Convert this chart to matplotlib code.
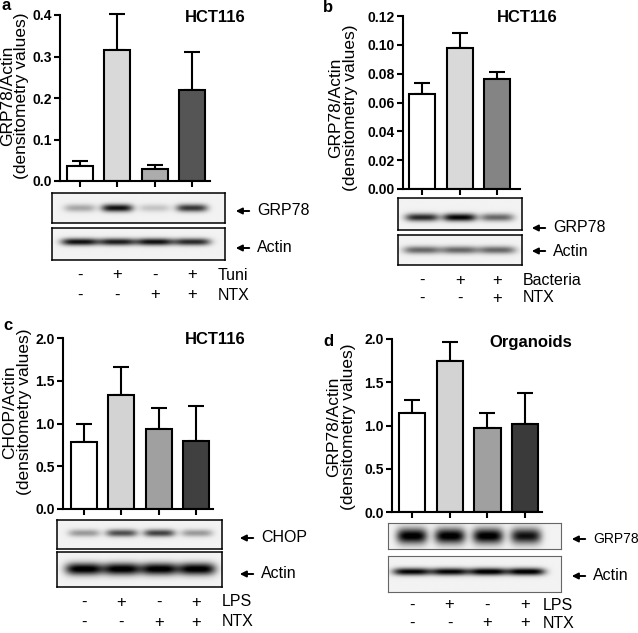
import numpy as np
import matplotlib.pyplot as plt
from matplotlib.patches import FancyArrowPatch

plt.rcParams['font.family'] = ['Liberation Sans', 'DejaVu Sans']

W, H = 638, 633

# ---- data ----
# a: HCT116, tunicamycin
a_vals = [0.037, 0.315, 0.030, 0.219]
a_err = [0.012, 0.087, 0.008, 0.092]
a_colors = ['#ffffff', '#d9d9d9', '#acacac', '#555555']
a_ticks = [0.0, 0.1, 0.2, 0.3, 0.4]
a_row1 = ['-', '+', '-', '+']
a_row2 = ['-', '-', '+', '+']
a_grp78 = [0.30, 0.90, 0.18, 0.75]
a_actin = [0.90, 0.85, 0.90, 0.80]

# b: HCT116, bacteria
b_vals = [0.0658, 0.0976, 0.0764]
b_err = [0.0076, 0.0104, 0.0048]
b_colors = ['#ffffff', '#d9d9d9', '#848484']
b_ticks = [0.00, 0.02, 0.04, 0.06, 0.08, 0.10, 0.12]
b_row1 = ['-', '+', '+']
b_row2 = ['-', '-', '+']
b_grp78 = [0.80, 0.95, 0.55]
b_actin = [0.55, 0.55, 0.55]

# c: HCT116, LPS, CHOP
c_vals = [0.78, 1.33, 0.93, 0.80]
c_err = [0.21, 0.33, 0.25, 0.41]
c_colors = ['#ffffff', '#d3d3d3', '#a0a0a0', '#404040']
c_ticks = [0.0, 0.5, 1.0, 1.5, 2.0]
c_row1 = ['-', '+', '-', '+']
c_row2 = ['-', '-', '+', '+']
c_chop = [0.35, 0.65, 0.70, 0.35]
c_actin = [1.0, 1.0, 1.0, 1.0]

# d: organoids, LPS
d_vals = [1.15, 1.74, 0.97, 1.02]
d_err = [0.15, 0.23, 0.18, 0.35]
d_colors = ['#ffffff', '#d3d3d3', '#a0a0a0', '#3a3a3a']
d_ticks = [0.0, 0.5, 1.0, 1.5, 2.0]
d_row1 = ['-', '+', '-', '+']
d_row2 = ['-', '-', '+', '+']
d_grp78 = [1.0, 1.0, 1.0, 0.9]
d_actin = [0.95, 0.95, 1.0, 1.0]

fig = plt.figure(figsize=(W / 100, H / 100), dpi=100)


def px_rect(x0, y0, x1, y1):
    return [x0 / W, 1 - y1 / H, (x1 - x0) / W, (y1 - y0) / H]


def put(x, y, s, **kw):
    fig.text(x / W, 1 - y / H, s, **kw)


def bar_panel(box, xlim, vals, errs, colors, ticks, fmt):
    ax = fig.add_axes(px_rect(*box))
    x = np.arange(len(vals))
    ax.bar(x, vals, width=0.69, color=colors, edgecolor='black', linewidth=1.5, zorder=2)
    eb = ax.errorbar(x, vals, yerr=[np.zeros(len(errs)), errs], fmt='none', ecolor='black',
                     elinewidth=1.5, capsize=5.5, capthick=1.5, zorder=1)
    for art in eb.lines[1] + eb.lines[2]:
        art.set_clip_on(False)
    ax.set_xlim(*xlim)
    ax.set_ylim(ticks[0], ticks[-1])
    ax.set_xticks(x)
    ax.set_xticklabels([])
    ax.set_yticks(ticks)
    ax.set_yticklabels([fmt % t for t in ticks], fontweight='bold', fontsize=10)
    ax.spines['top'].set_visible(False)
    ax.spines['right'].set_visible(False)
    ax.spines['left'].set_linewidth(1.5)
    ax.spines['bottom'].set_linewidth(1.5)
    ax.tick_params(width=1.5, length=4, direction='out', pad=2)
    ax.patch.set_alpha(0)
    return ax


def blot(ax, box, lanes, yc, hh, hw, edge='black', lw=1.1):
    # lane positions follow the bar axis above
    inv = ax.transData.inverted()
    d0 = inv.transform((box[0], 0))[0]
    d1 = inv.transform((box[2], 0))[0]
    bax = fig.add_axes(px_rect(*box))
    xs = np.linspace(d0, d1, 400)
    ys = np.linspace(0, 1, 80)
    X, Y = np.meshgrid(xs, ys)
    dark = np.zeros_like(X)
    for i, v in enumerate(lanes):
        dark += v * np.exp(-(np.abs(X - i) / hw) ** 4) * np.exp(-((Y - yc) / hh) ** 2)
    img = 0.95 - np.clip(dark, 0, 0.95)
    bax.imshow(img, cmap='gray', vmin=0, vmax=1, extent=(d0, d1, 1, 0),
               aspect='auto', interpolation='bilinear')
    bax.set_xticks([])
    bax.set_yticks([])
    for s in bax.spines.values():
        s.set_color(edge)
        s.set_linewidth(lw)
    return bax


def tag(x, y, s, size=11.5):
    # arrow pointing at the band, then the protein name
    arr = FancyArrowPatch(((x + 19) / W, 1 - y / H), (x / W, 1 - y / H),
                          transform=fig.transFigure, arrowstyle='-|>',
                          mutation_scale=9, lw=1.4, color='black')
    fig.add_artist(arr)
    put(x + 24, y, s, ha='left', va='center', fontsize=size)


def rows(ax, y1, y2, r1, r2, lx, n1, n2):
    for i in range(len(r1)):
        xp = ax.transData.transform((i, 0))[0]
        put(xp, y1, r1[i], ha='center', va='center', fontsize=12)
        put(xp, y2, r2[i], ha='center', va='center', fontsize=12)
    put(lx, y1, n1, ha='left', va='center', fontsize=11.5)
    put(lx, y2, n2, ha='left', va='center', fontsize=11.5)


def ylabel(x1, x2, y, line1):
    kw = dict(rotation=90, ha='center', va='center', fontsize=12.5)
    put(x1, y, line1, **kw)
    put(x2, y, '(densitometry values)', **kw)


ttl = dict(ha='center', va='center', fontsize=12, fontweight='bold')
let = dict(ha='left', va='center', fontsize=12, fontweight='bold')

# ---- panel a ----
ax_a = bar_panel((60, 15, 210, 181), (-0.53, 3.48), a_vals, a_err, a_colors, a_ticks, '%.1f')
blot(ax_a, (52, 193, 225, 223), a_grp78, 0.5, 0.13, 0.42)
blot(ax_a, (52, 228, 225, 260), a_actin, 0.45, 0.11, 0.5)
tag(233, 211, 'GRP78')
tag(233, 248, 'Actin')
rows(ax_a, 275, 295, a_row1, a_row2, 218, 'Tuni', 'NTX')
ylabel(8, 22, 96, 'GRP78/Actin')
put(215, 18, 'HCT116', **ttl)
put(1, 6, 'a', **let)

# ---- panel b ----
ax_b = bar_panel((403, 16, 520, 189), (-0.51, 2.61), b_vals, b_err, b_colors, b_ticks, '%.2f')
blot(ax_b, (398, 198, 522, 230), b_grp78, 0.62, 0.12, 0.45)
blot(ax_b, (398, 235, 522, 265), b_actin, 0.5, 0.13, 0.5)
tag(529, 228, 'GRP78')
tag(529, 251, 'Actin')
rows(ax_b, 280, 298, b_row1, b_row2, 523, 'Bacteria', 'NTX')
ylabel(336, 350, 108, 'GRP78/Actin')
put(527, 17, 'HCT116', **ttl)
put(323, 8, 'b', **let)

# ---- panel c ----
ax_c = bar_panel((63, 338, 213, 509), (-0.56, 3.45), c_vals, c_err, c_colors, c_ticks, '%.1f')
blot(ax_c, (57, 520, 222, 549), c_chop, 0.45, 0.13, 0.42)
blot(ax_c, (57, 552, 222, 587), c_actin, 0.5, 0.17, 0.5)
tag(237, 538, 'CHOP')
tag(237, 574, 'Actin')
rows(ax_c, 602, 622, c_row1, c_row2, 222, 'LPS', 'NTX')
ylabel(10, 25, 412, 'CHOP/Actin')
put(215, 340, 'HCT116', **ttl)
put(3, 326, 'c', **let)

# ---- panel d ----
ax_d = bar_panel((392, 339, 542, 512), (-0.52, 3.44), d_vals, d_err, d_colors, d_ticks, '%.1f')
blot(ax_d, (388, 523, 561, 549), d_grp78, 0.5, 0.3, 0.4, edge='#666666', lw=0.8)
blot(ax_d, (388, 556, 561, 592), d_actin, 0.45, 0.1, 0.5, edge='#666666', lw=0.8)
tag(569, 539, 'GRP78', size=10)
tag(569, 576, 'Actin')
rows(ax_d, 605, 623, d_row1, d_row2, 543, 'LPS', 'NTX')
ylabel(334, 349, 427, 'GRP78/Actin')
put(531, 342, 'Organoids', **ttl)
put(323, 342, 'd', **let)

fig.savefig('out.png', dpi=100)
